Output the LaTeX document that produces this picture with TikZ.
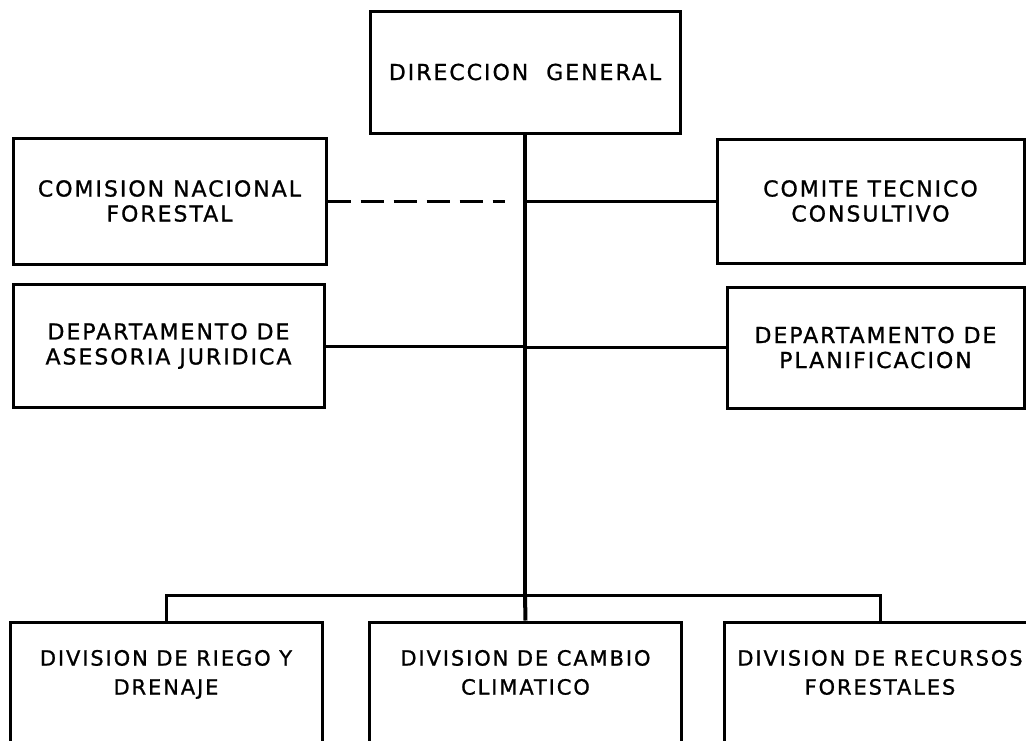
\documentclass[tikz,border=0pt]{standalone}
\usepackage{fontspec}
\setmainfont{DejaVu Sans}[LetterSpace=9, FakeBold=1]
\begin{document}
\begin{tikzpicture}[x=1pt,y=-1pt]
						\useasboundingbox (0,0) rectangle (1026,740);
						\begin{scope}[every node/.style={draw=black, line width=3pt, rectangle, align=center, inner sep=0pt, font=\fontsize{22}{25}\selectfont}]
							\node[minimum width=310pt, minimum height=122pt] (dir) at (525,72) {DIRECCION\ \ GENERAL};
							\node[minimum width=313pt, minimum height=126pt] (cnf) at (169.5,201) {COMISION NACIONAL\\FORESTAL};
							\node[minimum width=311pt, minimum height=123pt] (juri) at (168.5,346) {DEPARTAMENTO DE\\ASESORIA JURIDICA};
							\node[minimum width=307pt, minimum height=124pt] (ctc) at (870.5,201) {COMITE TECNICO\\CONSULTIVO};
							\node[minimum width=297pt, minimum height=121pt] (plan) at (875.5,347.5) {DEPARTAMENTO DE\\PLANIFICACION};
						\end{scope}
						\begin{scope}[every node/.style={draw=black, line width=3pt, rectangle, minimum width=312pt, minimum height=140pt}, every label/.style={draw=none, minimum width=0pt, minimum height=0pt, inner sep=0pt, anchor=north, yshift=-28pt, align=center, font=\fontsize{21}{29}\selectfont}]
							\node[label={north:DIVISION DE RIEGO Y\\DRENAJE}] (riego) at (166,692) {};
							\node[label={north:DIVISION DE CAMBIO\\CLIMATICO}] (cambio) at (525.5,692) {};
							\node[label={north:DIVISION DE RECURSOS\\FORESTALES}] (recursos) at (880,692) {};
						\end{scope}
						\coordinate (cnfend) at (505,201);
						\coordinate (bus) at (525,595);
						\begin{scope}[every edge/.style={draw=black, line width=3pt}]
							\path (dir.south) edge[line width=4.5pt] (bus);
							\path (cnf.east) edge[dash pattern=on 23pt off 10pt] (cnfend);
							\path (ctc.west) edge (ctc.west -| dir.south);
							\path (juri.east) edge (juri.east -| dir.south);
							\path (plan.west) edge (plan.west -| dir.south);
							\path (bus) edge[line width=4pt] (cambio.north);
							\path (riego.north) edge[to path={|- (\tikztotarget)}] (bus);
							\path (recursos.north) edge[to path={|- (\tikztotarget)}] (bus);
						\end{scope}
					\end{tikzpicture}
\end{document}
